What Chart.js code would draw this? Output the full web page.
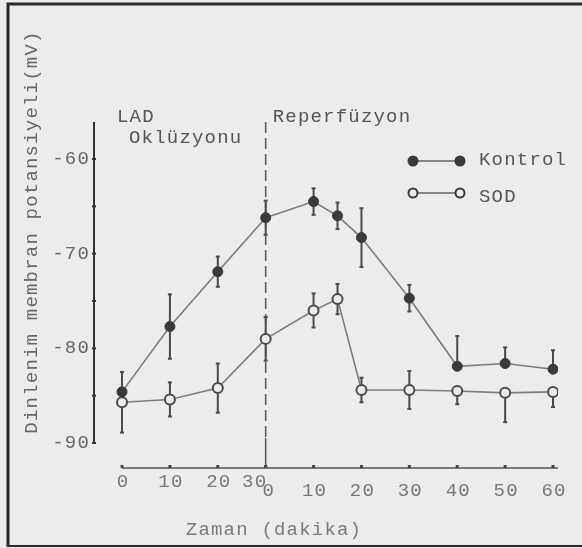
<!DOCTYPE html>
<html>
<head>
<meta charset="utf-8">
<script src="https://cdn.jsdelivr.net/npm/chart.js@4"></script>
<style>
    html, body { margin: 0; padding: 0; background: #ececea; }
</style>
</head>
<body>
<canvas id="chartPotencial" width="582" height="548"></canvas>
<script>
// minutos en un eje continuo: 0-30 oklüzyon, 30+ reperfüzyon
const MINUTOS = [0, 10, 20, 30, 40, 45, 50, 60, 70, 80, 90];

const KONTROL = [-84.6, -77.7, -71.9, -66.2, -64.5, -66.0, -68.3, -74.7, -81.9, -81.6, -82.2];
const KONTROL_ERR_UP = [2.1, 3.4, 1.6, 1.8, 1.4, 1.4, 3.1, 1.4, 3.2, 1.7, 2.0];
const KONTROL_ERR_DOWN = [0, 3.4, 1.6, 1.8, 1.4, 1.4, 3.1, 1.4, 0, 0, 0];

const SOD = [-85.7, -85.4, -84.2, -79.0, -76.0, -74.8, -84.4, -84.4, -84.5, -84.7, -84.6];
const SOD_ERR_UP = [0, 1.8, 2.6, 2.3, 1.8, 1.6, 1.3, 2.0, 0, 0, 0];
const SOD_ERR_DOWN = [3.2, 1.8, 2.6, 2.3, 1.8, 1.6, 1.3, 2.0, 1.4, 3.1, 1.6];

const TICKS_OKLUZYON = [0, 10, 20, 30];
const TICKS_REPERFUZYON = [0, 10, 20, 30, 40, 50, 60];
const TICKS_Y = [-60, -70, -80, -90];
const FIN_OKLUZYON = 30;

const FONDO = '#ececea';
const FUENTE = '19px "Liberation Mono", "DejaVu Sans Mono", monospace';

function texto(ctx, str, x, y, align, color) {
    ctx.fillStyle = color;
    ctx.textAlign = align;
    ctx.textBaseline = 'middle';
    ctx.fillText(str, x, y);
}

function barrasError(ctx, chart, valores, arriba, abajo) {
    const xs = chart.scales.x;
    const ys = chart.scales.y;
    ctx.strokeStyle = '#4a4a4a';
    ctx.lineWidth = 2;
    valores.forEach((v, i) => {
        const x = xs.getPixelForValue(MINUTOS[i]);
        const y0 = ys.getPixelForValue(v + arriba[i]);
        const y1 = ys.getPixelForValue(v - abajo[i]);
        ctx.beginPath();
        ctx.moveTo(x, y0);
        ctx.lineTo(x, y1);
        ctx.stroke();
        [[arriba[i], y0], [abajo[i], y1]].forEach(([e, y]) => {
            if (e > 0) {
                ctx.beginPath();
                ctx.moveTo(x - 2, y);
                ctx.lineTo(x + 2, y);
                ctx.stroke();
            }
        });
    });
}

const decoracion = {
    id: 'decoracion',
    beforeDraw(chart) {
        const { ctx, width, height } = chart;
        ctx.save();
        ctx.fillStyle = FONDO;
        ctx.fillRect(0, 0, width, height);
        // marco de la figura escaneada
        ctx.strokeStyle = '#2b2b2b';
        ctx.lineWidth = 3;
        ctx.beginPath();
        ctx.moveTo(8, 547);
        ctx.lineTo(8, 4);
        ctx.lineTo(582, 4);
        ctx.stroke();
        ctx.lineWidth = 2;
        ctx.beginPath();
        ctx.moveTo(8, 546);
        ctx.lineTo(582, 546);
        ctx.stroke();
        ctx.restore();
    },
    beforeDatasetsDraw(chart) {
        const { ctx, chartArea } = chart;
        const xs = chart.scales.x;
        const ys = chart.scales.y;
        ctx.save();

        // eje y
        const yTop = chartArea.top;
        const yBottom = ys.getPixelForValue(-90);
        ctx.strokeStyle = '#333';
        ctx.lineWidth = 2;
        ctx.beginPath();
        ctx.moveTo(chartArea.left, yTop);
        ctx.lineTo(chartArea.left, yBottom);
        ctx.stroke();
        for (let v = -90; v <= -60; v += 5) {
            const y = ys.getPixelForValue(v);
            ctx.beginPath();
            ctx.moveTo(chartArea.left - 2, y);
            ctx.lineTo(chartArea.left + 2, y);
            ctx.stroke();
        }

        // eje x
        const xLeft = xs.getPixelForValue(0);
        ctx.lineWidth = 1.5;
        ctx.strokeStyle = '#555';
        ctx.beginPath();
        ctx.moveTo(xLeft, chartArea.bottom);
        ctx.lineTo(chartArea.right, chartArea.bottom);
        ctx.stroke();
        const marcas = TICKS_OKLUZYON.concat(TICKS_REPERFUZYON.map(t => t + FIN_OKLUZYON));
        ctx.fillStyle = '#444';
        marcas.forEach(t => {
            const x = xs.getPixelForValue(t);
            ctx.fillRect(x - 1.5, chartArea.bottom - 3, 3, 3);
        });

        // línea discontinua del final de la oklüzyon
        const xd = xs.getPixelForValue(FIN_OKLUZYON);
        ctx.strokeStyle = '#555';
        ctx.lineWidth = 1.5;
        ctx.setLineDash([11, 5]);
        ctx.beginPath();
        ctx.moveTo(xd, yTop);
        ctx.lineTo(xd, chartArea.bottom - 30);
        ctx.stroke();
        ctx.setLineDash([]);
        ctx.beginPath();
        ctx.moveTo(xd, chartArea.bottom - 30);
        ctx.lineTo(xd, chartArea.bottom);
        ctx.stroke();

        barrasError(ctx, chart, KONTROL, KONTROL_ERR_UP, KONTROL_ERR_DOWN);
        barrasError(ctx, chart, SOD, SOD_ERR_UP, SOD_ERR_DOWN);
        ctx.restore();
    },
    afterDraw(chart) {
        const { ctx, chartArea } = chart;
        const xs = chart.scales.x;
        const ys = chart.scales.y;
        ctx.save();
        ctx.font = FUENTE;
        ctx.letterSpacing = '1.2px';

        TICKS_Y.forEach(v => texto(ctx, String(v), chartArea.left - 4, ys.getPixelForValue(v), 'right', '#666'));

        TICKS_OKLUZYON.forEach(t => {
            const x = xs.getPixelForValue(t) + (t === FIN_OKLUZYON ? -11 : 1);
            texto(ctx, String(t), x, chartArea.bottom + 14, 'center', '#777');
        });
        TICKS_REPERFUZYON.forEach(t => {
            const x = xs.getPixelForValue(t + FIN_OKLUZYON) + (t === 0 ? 3 : 1);
            texto(ctx, String(t), x, chartArea.bottom + 23, 'center', '#777');
        });

        texto(ctx, 'Zaman (dakika)', 274, 530, 'center', '#7a7a7a');

        ctx.save();
        ctx.translate(32, 232);
        ctx.rotate(-Math.PI / 2);
        texto(ctx, 'Dinlenim membran potansiyeli(mV)', 0, 0, 'center', '#666');
        ctx.restore();

        const xd = xs.getPixelForValue(FIN_OKLUZYON);
        texto(ctx, 'LAD', 117, 117, 'left', '#555');
        texto(ctx, 'Oklüzyonu', 129, 138, 'left', '#555');
        texto(ctx, 'Reperfüzyon', xd + 7, 117, 'left', '#555');

        // leyenda
        const leyenda = [
            { label: 'Kontrol', y: 161, relleno: '#3a3a3a' },
            { label: 'SOD', y: 193, relleno: FONDO }
        ];
        leyenda.forEach(item => {
            ctx.strokeStyle = '#666';
            ctx.lineWidth = 1.5;
            ctx.beginPath();
            ctx.moveTo(413, item.y);
            ctx.lineTo(460, item.y);
            ctx.stroke();
            [413, 460].forEach(x => {
                ctx.beginPath();
                ctx.arc(x, item.y, 4.5, 0, Math.PI * 2);
                ctx.fillStyle = item.relleno;
                ctx.fill();
                ctx.strokeStyle = '#3a3a3a';
                ctx.lineWidth = 2;
                ctx.stroke();
            });
            texto(ctx, item.label, 479, item.y + (item.label === 'SOD' ? 4 : -1), 'left', '#555');
        });
        ctx.restore();
    }
};

new Chart(document.getElementById('chartPotencial'), {
    type: 'line',
    data: {
        datasets: [
            {
                label: 'Kontrol',
                data: MINUTOS.map((m, i) => ({ x: m, y: KONTROL[i] })),
                borderColor: '#7c7c7c',
                borderWidth: 1.6,
                pointRadius: 5,
                pointBackgroundColor: '#3a3a3a',
                pointBorderColor: '#3a3a3a',
                pointBorderWidth: 1,
                tension: 0
            },
            {
                label: 'SOD',
                data: MINUTOS.map((m, i) => ({ x: m, y: SOD[i] })),
                borderColor: '#7c7c7c',
                borderWidth: 1.6,
                pointRadius: 5,
                pointBackgroundColor: FONDO,
                pointBorderColor: '#4a4a4a',
                pointBorderWidth: 2,
                tension: 0
            }
        ]
    },
    options: {
        responsive: false,
        animation: false,
        layout: { padding: { left: 94, right: 24, top: 122, bottom: 80 } },
        scales: {
            x: { type: 'linear', display: false, min: -5.85, max: 91.04 },
            y: { type: 'linear', display: false, min: -92.64, max: -56.09 }
        },
        plugins: {
            legend: { display: false },
            tooltip: { enabled: false }
        }
    },
    plugins: [decoracion]
});
</script>
</body>
</html>
